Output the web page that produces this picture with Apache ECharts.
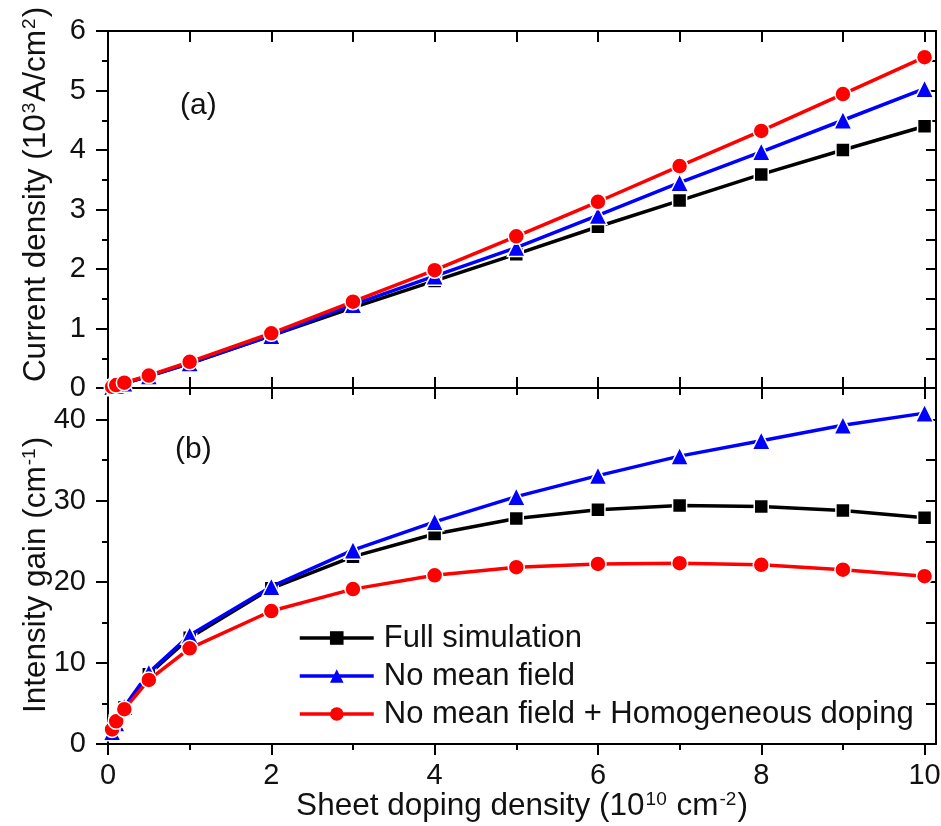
<!DOCTYPE html>
<html>
<head>
<meta charset="utf-8">
<script src="https://cdn.jsdelivr.net/npm/echarts@6/dist/echarts.min.js"></script>
<style>
  html, body { margin: 0; padding: 0; background: #fff; }
  #chart { width: 941px; height: 826px; }
</style>
</head>
<body>
<div id="chart"></div>
<script>
// Sheet doping density (10^10 cm^-2)
const dopingDensity = [0.05, 0.1, 0.2, 0.5, 1, 2, 3, 4, 5, 6, 7, 8, 9, 10];

// (a) Current density (10^3 A/cm^2)
const currentFull       = [0.02, 0.04, 0.08, 0.20, 0.41, 0.88, 1.35, 1.80, 2.25, 2.71, 3.15, 3.59, 4.00, 4.40];
const currentNoMF       = [0.02, 0.04, 0.08, 0.20, 0.42, 0.88, 1.40, 1.88, 2.36, 2.90, 3.45, 3.97, 4.50, 5.03];
const currentNoMFHomog  = [0.02, 0.05, 0.09, 0.21, 0.44, 0.92, 1.45, 1.98, 2.55, 3.13, 3.73, 4.32, 4.94, 5.56];

// (b) Intensity gain (cm^-1)
const gainFull          = [1.6, 2.7, 4.5, 8.6, 13.1, 19.2, 23.1, 25.9, 27.8, 28.9, 29.4, 29.3, 28.8, 27.9];
const gainNoMF          = [1.5, 2.6, 4.6, 8.8, 13.4, 19.4, 23.9, 27.4, 30.5, 33.1, 35.5, 37.4, 39.3, 40.8];
const gainNoMFHomog     = [1.8, 2.8, 4.3, 7.9, 11.8, 16.4, 19.1, 20.8, 21.8, 22.2, 22.3, 22.1, 21.5, 20.7];

const seriesNames = ['Full simulation', 'No mean field', 'No mean field + Homogeneous doping'];

// Tick positions
const xMajorTicks = [0, 2, 4, 6, 8, 10];
const xMinorTicks = [1, 3, 5, 7, 9];
const xAllTicks   = [0, 1, 2, 3, 4, 5, 6, 7, 8, 9, 10];
const yaMajorTicks = [0, 1, 2, 3, 4, 5, 6];
const yaMinorTicks = [0.5, 1.5, 2.5, 3.5, 4.5, 5.5];
const yaRightTicks = [0.5, 1, 1.5, 2, 2.5, 3, 3.5, 4, 4.5, 5, 5.5];
const ybMajorTicks = [0, 10, 20, 30, 40];
const ybMinorTicks = [5, 15, 25, 35];
const ybRightTicks = [5, 10, 15, 20, 25, 30, 35, 40];

const X_MAX = 10.14;
const YA_MAX = 6;
const YB_MAX = 43.9;

const FONT = '"Liberation Sans", Arial, "DejaVu Sans", sans-serif';
const TXT = '#111';

const pair = (ys) => dopingDensity.map((x, i) => [x, ys[i]]);

const rich = {
  n: { fontSize: 31.5, fontFamily: FONT, color: TXT },
  s: { fontSize: 19, fontFamily: FONT, color: TXT, verticalAlign: 'top', padding: [0, 1, 0, 1] }
};

function axis(opts) {
  const a = {
    type: 'value',
    gridIndex: opts.grid,
    position: opts.position,
    min: opts.min,
    max: opts.max,
    splitLine: { show: false },
    axisLine: { show: opts.line !== false, onZero: false, lineStyle: { color: '#000', width: 2 } },
    axisTick: {
      show: true,
      inside: !!opts.inside,
      length: opts.len,
      customValues: opts.ticks,
      lineStyle: { color: '#000', width: 2 }
    },
    axisLabel: opts.labels ? {
      show: true,
      customValues: opts.labels,
      margin: opts.margin,
      fontSize: 29,
      fontFamily: FONT,
      color: TXT,
      hideOverlap: false,
      showMinLabel: true,
      showMaxLabel: true
    } : { show: false },
    minorTick: { show: false },
    minorSplitLine: { show: false }
  };
  if (opts.name) {
    a.name = opts.name;
    a.nameLocation = 'middle';
    a.nameGap = opts.nameGap;
    a.nameMoveOverlap = false;
    a.nameTextStyle = { rich: rich, fontSize: 31.5, fontFamily: FONT, color: TXT, padding: opts.namePad || 0 };
  }
  return a;
}

const xAxes = [
  // panel (a)
  axis({ grid: 0, position: 'bottom', min: 0, max: X_MAX, inside: true, len: 11, ticks: xAllTicks }),
  axis({ grid: 0, position: 'top', min: 0, max: X_MAX, inside: true, len: 11, ticks: xAllTicks }),
  // panel (b)
  axis({ grid: 1, position: 'bottom', min: 0, max: X_MAX, inside: false, len: 11, ticks: xMajorTicks,
         labels: xMajorTicks, margin: 17,
         name: '{n|Sheet doping density (10}{s|10}{n| cm}{s|-2}{n|)}', nameGap: 46 }),
  axis({ grid: 1, position: 'bottom', min: 0, max: X_MAX, inside: false, len: 6, ticks: xMinorTicks, line: false }),
  axis({ grid: 1, position: 'top', min: 0, max: X_MAX, inside: true, len: 11, ticks: xMajorTicks, line: false }),
  axis({ grid: 1, position: 'top', min: 0, max: X_MAX, inside: true, len: 7, ticks: xMinorTicks, line: false })
];

const yAxes = [
  // panel (a)
  axis({ grid: 0, position: 'left', min: 0, max: YA_MAX, inside: false, len: 12, ticks: yaMajorTicks,
         labels: yaMajorTicks, margin: 22,
         name: '{n|Current density (10}{s|3}{n|A/cm}{s|2}{n|)}', nameGap: 56, namePad: [0, 0, 0, 30] }),
  axis({ grid: 0, position: 'left', min: 0, max: YA_MAX, inside: false, len: 6, ticks: yaMinorTicks, line: false }),
  axis({ grid: 0, position: 'right', min: 0, max: YA_MAX, inside: true, len: 10, ticks: yaRightTicks }),
  // panel (b)
  axis({ grid: 1, position: 'left', min: 0, max: YB_MAX, inside: false, len: 12, ticks: ybMajorTicks,
         labels: ybMajorTicks, margin: 22,
         name: '{n|Intensity gain (cm}{s|-1}{n|)}', nameGap: 56, namePad: [0, 18, 0, 0] }),
  axis({ grid: 1, position: 'left', min: 0, max: YB_MAX, inside: false, len: 6, ticks: ybMinorTicks, line: false }),
  axis({ grid: 1, position: 'right', min: 0, max: YB_MAX, inside: true, len: 10, ticks: ybRightTicks })
];

const styles = [
  { color: '#000000', symbol: 'rect', size: 14 },
  { color: '#0000ff', symbol: 'triangle', size: 18 },
  { color: '#ff0000', symbol: 'circle', size: 16 }
];

function lineSeries(idx, data, xi, yi) {
  const s = styles[idx];
  return {
    name: seriesNames[idx],
    type: 'line',
    xAxisIndex: xi,
    yAxisIndex: yi,
    data: pair(data),
    symbol: s.symbol,
    symbolSize: s.size,
    showAllSymbol: true,
    animation: false,
    lineStyle: { color: s.color, width: 3.5 },
    itemStyle: { color: s.color, borderColor: '#fff', borderWidth: 1.5 },
    emphasis: { disabled: true },
    z: 2 + idx
  };
}

const option = {
  backgroundColor: '#fff',
  animation: false,
  grid: [
    { left: 108, right: 5, top: 31, height: 357, outerBoundsMode: 'none', containLabel: false },
    { left: 108, right: 5, top: 388, height: 356, outerBoundsMode: 'none', containLabel: false }
  ],
  xAxis: xAxes,
  yAxis: yAxes,
  legend: {
    data: seriesNames.map((name, i) => ({
      name: name,
      lineStyle: { width: 3.5, color: styles[i].color },
      itemStyle: { color: styles[i].color, borderWidth: 0 }
    })),
    orient: 'vertical',
    left: 298,
    top: 619,
    itemWidth: 74,
    itemHeight: 17,
    itemGap: 0,
    padding: 0,
    selectedMode: false,
    lineStyle: { width: 3.5 },
    itemStyle: { borderWidth: 0 },
    textStyle: { fontSize: 31, fontFamily: FONT, color: TXT, lineHeight: 38, padding: [0, 0, 0, 5] }
  },
  graphic: [
    { type: 'text', left: 180, top: 91, style: { text: '(a)', fontSize: 30, fontFamily: FONT, fill: TXT } },
    { type: 'text', left: 175, top: 435, style: { text: '(b)', fontSize: 30, fontFamily: FONT, fill: TXT } }
  ],
  series: [
    lineSeries(0, currentFull, 0, 0),
    lineSeries(1, currentNoMF, 0, 0),
    lineSeries(2, currentNoMFHomog, 0, 0),
    lineSeries(0, gainFull, 2, 3),
    lineSeries(1, gainNoMF, 2, 3),
    lineSeries(2, gainNoMFHomog, 2, 3)
  ]
};

const chart = echarts.init(document.getElementById('chart'), null, { renderer: 'canvas' });
chart.setOption(option);
</script>
</body>
</html>
